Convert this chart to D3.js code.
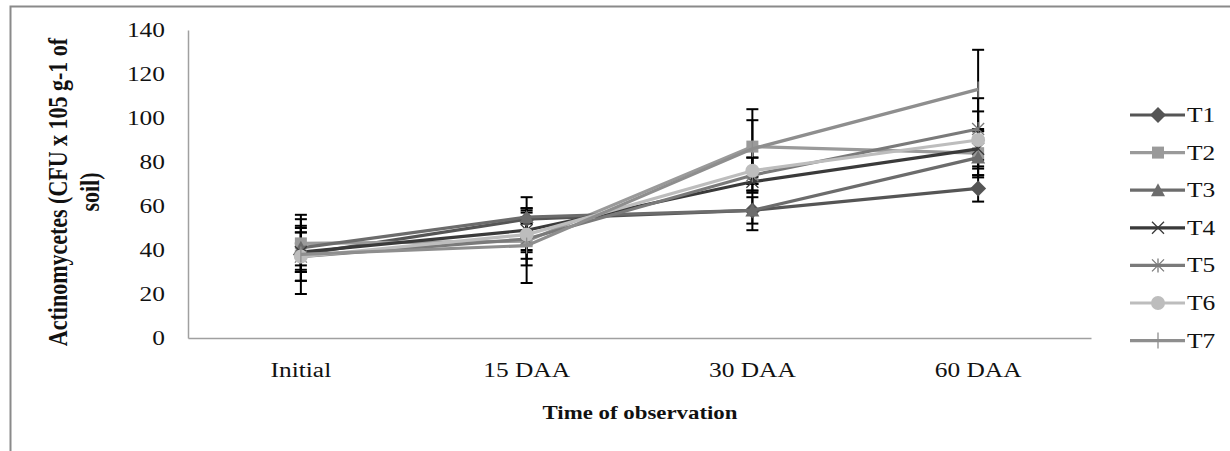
<!DOCTYPE html>
<html><head><meta charset="utf-8">
<script src="https://cdn.jsdelivr.net/npm/d3@7/dist/d3.min.js"></script>
<style>body{margin:0;background:#fff}svg{display:block}</style>
</head><body>
<svg id="c" width="1230" height="451"></svg>
<script>
const categories = ["Initial", "15 DAA", "30 DAA", "60 DAA"];
const seriesNames = ["T1", "T2", "T3", "T4", "T5", "T6", "T7"];
const T1 = [38, 54, 58, 68];
const T2 = [43, 44, 87, 84];
const T3 = [41, 55, 58, 82];
const T4 = [39, 49, 71, 86];
const T5 = [37, 45, 74, 95];
const T6 = [37, 47, 76, 90];
const T7 = [38, 42, 86, 113];
const E1 = [12, 5, 6, 6];
const E2 = [13, 8, 17, 10];
const E3 = [10, 9, 9, 9];
const E4 = [9, 9, 4, 8];
const E5 = [11, 12, 8, 14];
const E6 = [17, 8, 6, 13];
const E7 = [5, 17, 13, 18];
const yTicks = [0, 20, 40, 60, 80, 100, 120, 140];

const values = [T1, T2, T3, T4, T5, T6, T7];
const errors = [E1, E2, E3, E4, E5, E6, E7];
const colors = ["#555555", "#9a9a9a", "#6c6c6c", "#3a3a3a", "#7a7a7a", "#bdbdbd", "#8e8e8e"];
const shapes = ["diamond", "square", "triangle", "x", "asterisk", "circle", "plus"];

const svg = d3.select("#c");
const serif = "'Liberation Serif','Times New Roman',serif";
const SX = 1.27; // horizontal stretch of the original picture's text

function stretch(sel) {
  sel.each(function () {
    const t = d3.select(this);
    const tx = +t.attr("x") || 0;
    t.attr("transform", `translate(${tx},0) scale(${SX},1) translate(${-tx},0)`);
  });
}

// frame
svg.append("path").attr("d", "M10.5,451 V6.5 H1230").attr("fill", "none").attr("stroke", "#8a8a8a").attr("stroke-width", 2);

const x = d3.scaleBand().domain(categories).range([188, 1091]).padding(0);
const y = d3.scaleLinear().domain([0, 140]).range([338, 30]);

// axes
const yAxis = svg.append("g").attr("transform", "translate(188,0)")
  .call(d3.axisLeft(y).tickValues(yTicks).tickSize(0).tickPadding(23));
yAxis.select(".domain").attr("stroke", "#a0a0a0").attr("stroke-width", 1.5);
yAxis.selectAll("text").attr("font-family", serif).attr("font-size", 20).attr("fill", "#111").call(stretch);

const xAxis = svg.append("g").attr("transform", "translate(0,338)")
  .call(d3.axisBottom(x).tickSize(0).tickPadding(25));
xAxis.select(".domain").attr("stroke", "#a0a0a0").attr("stroke-width", 1.5);
xAxis.selectAll("text").attr("font-family", serif).attr("font-size", 20).attr("fill", "#111").call(stretch);

// titles
svg.append("text").attr("x", 640).attr("y", 419).attr("text-anchor", "middle")
  .attr("font-family", serif).attr("font-weight", "bold").attr("font-size", 18).attr("fill", "#111")
  .text("Time of observation").call(stretch);
const yt = svg.append("text").attr("transform", `translate(67,192) scale(${SX},1) rotate(-90)`).attr("text-anchor", "middle")
  .attr("font-family", serif).attr("font-weight", "bold").attr("font-size", 22).attr("fill", "#111");
yt.append("tspan").attr("x", 0).attr("y", 0).text("Actinomycetes (CFU x 105 g-1 of");
yt.append("tspan").attr("x", 0).attr("y", 25).text("soil)");

const cx = c => x(c) + x.bandwidth() / 2;

function marker(g, shape, color, px, py) {
  const s = 7;
  if (shape === "diamond") g.append("path").attr("d", `M${px},${py - s - 1}L${px + s + 1},${py}L${px},${py + s + 1}L${px - s - 1},${py}Z`).attr("fill", color);
  else if (shape === "square") g.append("rect").attr("x", px - 6).attr("y", py - 6).attr("width", 12).attr("height", 12).attr("fill", color);
  else if (shape === "triangle") g.append("path").attr("d", `M${px},${py - 7}L${px + 7},${py + 6}L${px - 7},${py + 6}Z`).attr("fill", color);
  else if (shape === "circle") g.append("circle").attr("cx", px).attr("cy", py).attr("r", 7).attr("fill", color);
  else if (shape === "x") g.append("path").attr("d", `M${px - 6},${py - 6}L${px + 6},${py + 6}M${px + 6},${py - 6}L${px - 6},${py + 6}`).attr("stroke", color).attr("stroke-width", 1.3);
  else if (shape === "asterisk") g.append("path").attr("d", `M${px - 6},${py - 6}L${px + 6},${py + 6}M${px + 6},${py - 6}L${px - 6},${py + 6}M${px},${py - 7}V${py + 7}`).attr("stroke", color).attr("stroke-width", 1.3);
  else if (shape === "plus") g.append("path").attr("d", `M${px},${py - 8}V${py + 8}`).attr("stroke", color).attr("stroke-width", 1.3);
}

const line = d3.line().x((d, i) => cx(categories[i])).y(d => y(d));

// error bars
const eg = svg.append("g");
values.forEach((vals, si) => {
  vals.forEach((v, i) => {
    const px = cx(categories[i]);
    const e = errors[si][i];
    eg.append("line").attr("x1", px).attr("x2", px).attr("y1", y(v + e)).attr("y2", y(v - e)).attr("stroke", "#000").attr("stroke-width", 2);
    [v + e, v - e].forEach(w => eg.append("line").attr("x1", px - 6).attr("x2", px + 6).attr("y1", y(w)).attr("y2", y(w)).attr("stroke", "#000").attr("stroke-width", 2));
  });
});

// lines + markers
values.forEach((vals, si) => {
  const g = svg.append("g");
  g.append("path").datum(vals).attr("d", line).attr("fill", "none").attr("stroke", colors[si]).attr("stroke-width", 3.2);
  vals.forEach((v, i) => marker(g, shapes[si], colors[si], cx(categories[i]), y(v)));
});

// legend
const lg = svg.append("g");
seriesNames.forEach((n, i) => {
  const ly = 115 + i * 37.6;
  lg.append("line").attr("x1", 1130).attr("x2", 1185).attr("y1", ly).attr("y2", ly).attr("stroke", colors[i]).attr("stroke-width", 3.2);
  marker(lg, shapes[i], colors[i], 1158, ly);
  lg.append("text").attr("x", 1187).attr("y", ly + 7).attr("font-family", serif).attr("font-size", 20).attr("fill", "#111").text(n).call(stretch);
});
</script>
</body></html>
